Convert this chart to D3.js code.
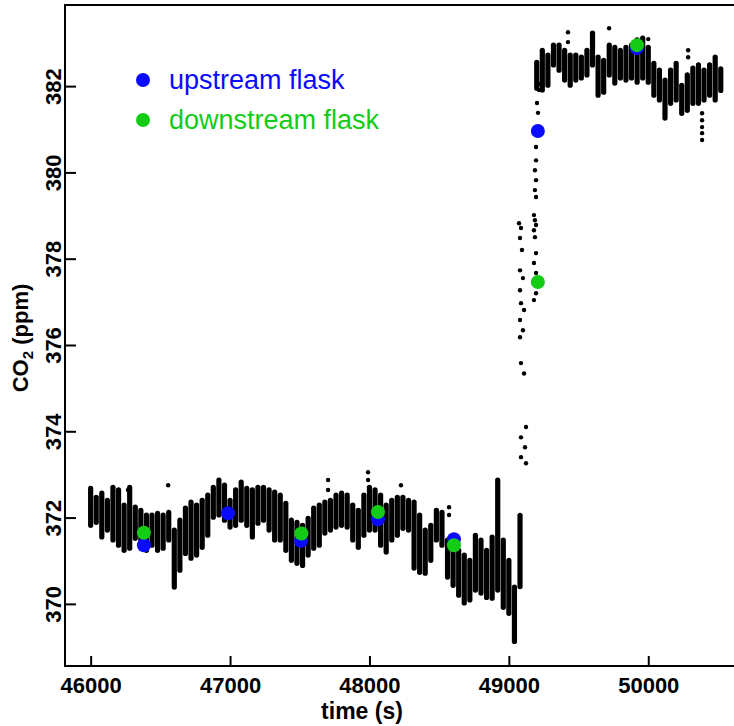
<!DOCTYPE html>
<html>
<head>
<meta charset="utf-8">
<script src="https://cdn.jsdelivr.net/npm/d3@7"></script>
<style>
  body { margin: 0; background: #fff; }
  svg { display: block; font-family: "Liberation Sans", Arial, sans-serif; }
</style>
</head>
<body>
<script>
// continuous record, sampled every 40 s: top and bottom of the cloud of readings
const bandStart = 46000;
const bandStep = 40;
const bandHigh = [
  372.68, 372.47, 372.57, 372.40, 372.70, 372.64, 372.29, 372.70, 372.24, 372.17,
  372.06, 372.06, 372.10, 372.06, 372.12, 371.71, 371.94, 372.22, 372.36, 372.29,
  372.40, 372.52, 372.70, 372.87, 372.75, 372.40, 372.64, 372.82, 372.68, 372.64,
  372.70, 372.70, 372.64, 372.59, 372.52, 372.33, 371.94, 371.89, 371.82, 371.98,
  372.22, 372.29, 372.36, 372.40, 372.52, 372.57, 372.52, 372.29, 372.17, 372.52,
  372.70, 372.64, 372.52, 372.29, 372.40, 372.47, 372.47, 372.40, 372.36, 372.06,
  371.71, 371.82, 372.17, 372.12, 371.48, 371.36, 371.24, 371.13, 371.01, 371.59,
  371.48, 371.24, 371.55, 372.87, 371.48, 371.01, 370.39, 372.05, null, null,
  382.55, 382.83, 382.72, 382.95, 382.95, 382.83, 382.72, 382.72, 382.67, 382.83,
  383.23, 382.67, 382.60, 382.95, 382.90, 382.83, 382.90, 382.95, 383.07, 383.11,
  382.90, 382.53, 382.37, 382.14, 382.37, 382.53, 382.02, 382.26, 382.42, 382.49,
  382.37, 382.49, 382.67, 382.40
];
const bandLow = [
  371.82, 371.89, 371.55, 371.71, 371.48, 371.36, 371.24, 371.29, 371.52, 371.48,
  371.24, 371.36, 371.24, 371.29, 371.48, 370.39, 370.78, 371.17, 371.06, 371.13,
  371.31, 371.59, 372.01, 372.06, 371.94, 371.78, 371.82, 371.94, 371.82, 371.55,
  371.87, 371.94, 371.71, 371.48, 371.48, 371.24, 371.01, 370.94, 370.89, 371.13,
  371.29, 371.36, 371.64, 371.71, 371.78, 371.82, 371.78, 371.48, 371.31, 371.59,
  371.71, 371.71, 371.36, 371.20, 371.48, 371.59, 371.75, 371.71, 370.83, 370.73,
  370.71, 371.01, 371.48, 371.36, 370.62, 370.43, 370.20, 370.02, 370.09, 370.32,
  370.25, 370.15, 370.13, 370.32, 369.92, 369.78, 369.13, 370.40, null, null,
  381.95, 381.91, 382.02, 382.49, 382.37, 382.14, 382.02, 382.14, 382.19, 382.26,
  382.49, 381.79, 381.86, 382.26, 382.07, 382.19, 382.14, 382.19, 382.09, 382.19,
  382.09, 381.79, 381.68, 381.26, 381.60, 381.68, 381.37, 381.44, 381.60, 381.60,
  381.68, 381.79, 381.68, 381.90
];

// single readings: stray points and the step change
const scatterTime = [
  46268, 46556, 47703, 47703, 47990, 47990, 48226, 48571, 48571,
  49073, 49087, 49080, 49094, 49080, 49101, 49080, 49087, 49109, 49080,
  49101, 49080, 49087, 49109, 49123, 49087, 49116, 49087, 49123,
  49180, 49195, 49180, 49195, 49180, 49195, 49187, 49180, 49195, 49187,
  49180, 49195, 49187, 49195, 49187, 49195, 49195, 49209, 49202, 49216, 49216,
  49424, 49424, 49719, 50000, 50286, 50286, 50386, 50386, 50386, 50386, 50386
];
const scatterCO2 = [
  372.64, 372.75, 372.87, 372.64, 373.05, 372.87, 372.75, 372.24, 372.06,
  378.82, 378.71, 378.48, 378.20, 377.73, 377.55, 377.27, 376.97, 376.81, 376.58,
  376.34, 376.18, 375.58, 375.34, 374.10, 373.86, 373.63, 373.40, 373.26,
  377.04, 377.20, 377.43, 377.67, 377.90, 378.13, 378.50, 378.66, 378.78, 378.89,
  379.01, 379.43, 379.59, 379.82, 380.05, 380.28, 380.59, 381.38, 381.61, 381.91, 382.05,
  383.25, 383.02, 383.34, 383.09, 382.83, 382.67, 381.37, 381.21, 381.05, 380.91, 380.75
];

// flask samples
const upTime = [46382, 46985, 47509, 48061, 48606, 49208, 49917];
const upCO2 = [371.36, 372.10, 371.46, 371.96, 371.50, 380.96, 382.88];
const downTime = [46382, 47512, 48061, 48606, 49208, 49919];
const downCO2 = [371.65, 371.63, 372.13, 371.36, 377.46, 382.95];

const xTicks = [46000, 47000, 48000, 49000, 50000];
const yTicks = [370, 372, 374, 376, 378, 380, 382];

const width = 734;
const height = 726;
const plotLeft = 65, plotRight = 734, plotTop = 5, plotBottom = 666;
const blue = '#0a0aff';
const green = '#14cc14';

const svg = d3.select('body')
    .append('svg')
    .attr('width', width)
    .attr('height', height);

const xScale = d3.scaleLinear()
    .domain([45816, 50615])
    .range([plotLeft, plotRight]);

const yScale = d3.scaleLinear()
    .domain([368.56, 383.88])
    .range([plotBottom, plotTop]);

// frame: left, bottom and top lines
svg.append('path')
    .attr('d', `M${plotRight},${plotTop}H${plotLeft}V${plotBottom}H${plotRight}`)
    .attr('fill', 'none')
    .attr('stroke', '#000')
    .attr('stroke-width', 2);

const xAxis = d3.axisBottom(xScale)
    .tickValues(xTicks)
    .tickFormat(d3.format('d'))
    .tickSize(-10)
    .tickSizeOuter(0);

const yAxis = d3.axisLeft(yScale)
    .tickValues(yTicks)
    .tickSize(-11)
    .tickSizeOuter(0);

const gx = svg.append('g')
    .attr('transform', `translate(0, ${plotBottom})`)
    .call(xAxis);

const gy = svg.append('g')
    .attr('transform', `translate(${plotLeft}, 0)`)
    .call(yAxis);

[gx, gy].forEach(g => {
    g.select('.domain').remove();
    g.selectAll('.tick line').attr('stroke', '#000').attr('stroke-width', 2);
    g.selectAll('.tick text')
        .attr('fill', '#000')
        .attr('font-size', 22)
        .attr('font-weight', 'bold')
        .attr('font-family', '"Liberation Sans", Arial, sans-serif');
});

gx.selectAll('.tick text').attr('y', 27).attr('dy', 0);
gy.selectAll('.tick text')
    .attr('transform', 'rotate(-90)')
    .attr('text-anchor', 'middle')
    .attr('x', 0)
    .attr('y', -4)
    .attr('dy', 0);

// axis titles
svg.append('text')
    .attr('x', 362)
    .attr('y', 719)
    .attr('text-anchor', 'middle')
    .attr('font-size', 23)
    .attr('font-weight', 'bold')
    .text('time (s)');

const yTitle = svg.append('text')
    .attr('transform', 'translate(28, 338) rotate(-90)')
    .attr('text-anchor', 'middle')
    .attr('font-size', 22)
    .attr('font-weight', 'bold');
yTitle.append('tspan').text('CO');
yTitle.append('tspan').attr('font-size', 15).attr('dy', 5).text('2');
yTitle.append('tspan').attr('dy', -5).text(' (ppm)');

// continuous record
const band = bandHigh
    .map((hi, i) => ({ t: bandStart + i * bandStep, hi: hi, lo: bandLow[i] }))
    .filter(d => d.hi !== null);

svg.append('g')
    .selectAll('line')
    .data(band)
    .enter()
    .append('line')
    .attr('x1', d => xScale(d.t))
    .attr('x2', d => xScale(d.t))
    .attr('y1', d => yScale(d.hi))
    .attr('y2', d => yScale(d.lo))
    .attr('stroke', '#000')
    .attr('stroke-width', 5.2)
    .attr('stroke-linecap', 'round');

svg.append('g')
    .selectAll('circle')
    .data(scatterTime)
    .enter()
    .append('circle')
    .attr('cx', d => xScale(d))
    .attr('cy', (d, i) => yScale(scatterCO2[i]))
    .attr('r', 2.2)
    .attr('fill', '#000');

// flasks
svg.append('g')
    .selectAll('circle')
    .data(upTime)
    .enter()
    .append('circle')
    .attr('cx', d => xScale(d))
    .attr('cy', (d, i) => yScale(upCO2[i]))
    .attr('r', 7)
    .attr('fill', blue);

svg.append('g')
    .selectAll('circle')
    .data(downTime)
    .enter()
    .append('circle')
    .attr('cx', d => xScale(d))
    .attr('cy', (d, i) => yScale(downCO2[i]))
    .attr('r', 7)
    .attr('fill', green);

// legend
const legend = [
    { name: 'upstream flask', color: blue },
    { name: 'downstream flask', color: green }
];

const lg = svg.append('g')
    .selectAll('g')
    .data(legend)
    .enter()
    .append('g')
    .attr('transform', (d, i) => `translate(143, ${80 + i * 40})`);

lg.append('circle')
    .attr('r', 7)
    .attr('fill', d => d.color);

lg.append('text')
    .attr('x', 26)
    .attr('y', 9)
    .attr('font-size', 27)
    .attr('fill', d => d.color)
    .text(d => d.name);
</script>
</body>
</html>
